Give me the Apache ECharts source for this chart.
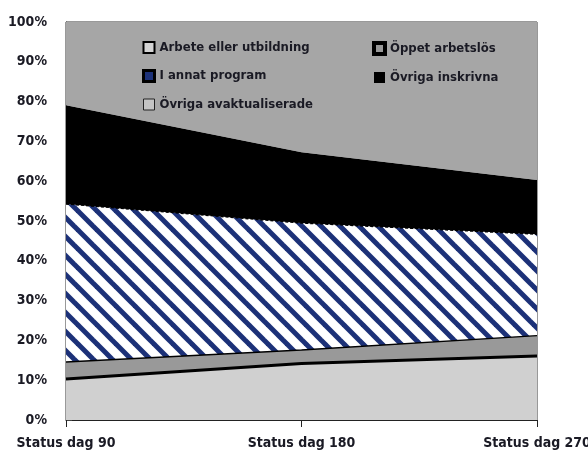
<!DOCTYPE html>
<html>
<head>
<meta charset="utf-8">
<script src="https://cdn.jsdelivr.net/npm/echarts@6/dist/echarts.min.js"></script>
<style>
  html, body { margin: 0; padding: 0; background: #fff; }
  #chart { width: 588px; height: 452px; }
</style>
</head>
<body>
<div id="chart"></div>
<script>
// kategorier och andelar (%)
const categories = ["Status dag 90", "Status dag 180", "Status dag 270"];
const arbete = [10.3, 14.2, 16.1];
const oppet = [4.3, 3.4, 5.1];
const annatProgram = [39.7, 31.9, 25.5];
const ovrigaInskrivna = [24.8, 17.8, 13.6];
const ovrigaAvakt = [20.9, 32.7, 39.7];
const yTicks = [0, 10, 20, 30, 40, 50, 60, 70, 80, 90, 100];

const font = "'DejaVu Sans Condensed', 'Liberation Sans Narrow', sans-serif";

// randigt mönster för "I annat program"
function makeStripes() {
  const s = 19;
  const c = document.createElement("canvas");
  c.width = s;
  c.height = s;
  const ctx = c.getContext("2d");
  ctx.fillStyle = "#ffffff";
  ctx.fillRect(0, 0, s, s);
  ctx.strokeStyle = "#1c3178";
  ctx.lineWidth = 5;
  for (let k = -1; k <= 1; k++) {
    ctx.beginPath();
    ctx.moveTo(-2, k * s - 2);
    ctx.lineTo(s + 2, s + k * s + 2);
    ctx.stroke();
  }
  return c;
}
const stripes = makeStripes();

const chart = echarts.init(document.getElementById("chart"));

const area = (name, data, fill, line) => ({
  name: name,
  type: "line",
  stack: "total",
  data: data,
  symbol: "none",
  areaStyle: { color: fill, opacity: 1 },
  lineStyle: line,
  itemStyle: { color: typeof fill === "string" ? fill : "#1c3178" },
  emphasis: { disabled: true },
  animation: false,
});

const legendText = { fontFamily: font, fontWeight: "bold", fontSize: 13, color: "#1a1a24" };

chart.setOption({
  animation: false,
  grid: {
    left: 66,
    right: 51,
    top: 22,
    bottom: 32,
    outerBoundsMode: "none",
    containLabel: false,
    show: true,
    borderColor: "#333",
    borderWidth: 1,
    backgroundColor: "#a6a6a6",
  },
  legend: [
    {
      orient: "vertical",
      left: 137,
      top: 36,
      itemGap: 15,
      itemWidth: 11,
      itemHeight: 11,
      textStyle: legendText,
      data: [
        { name: "Arbete eller utbildning", icon: "rect", itemStyle: { color: "#d4d4d4", borderColor: "#000", borderWidth: 2 } },
        { name: "I annat program", icon: "rect", itemStyle: { color: "#1c3178", borderColor: "#000", borderWidth: 3 } },
        { name: "Övriga avaktualiserade", icon: "rect", itemStyle: { color: "#c4c4c4", borderColor: "#222", borderWidth: 1 } },
      ],
    },
    {
      orient: "vertical",
      left: 367,
      top: 36,
      itemGap: 15,
      itemWidth: 11,
      itemHeight: 11,
      textStyle: legendText,
      data: [
        { name: "Öppet arbetslös", icon: "rect", itemStyle: { color: "#999", borderColor: "#000", borderWidth: 4 } },
        { name: "Övriga inskrivna", icon: "rect", itemStyle: { color: "#000", borderColor: "#000", borderWidth: 0 } },
      ],
    },
  ],
  xAxis: {
    type: "category",
    data: categories,
    boundaryGap: false,
    axisLine: { lineStyle: { color: "#222", width: 1 } },
    axisTick: { length: 7, lineStyle: { color: "#222" } },
    axisLabel: {
      fontFamily: font,
      fontWeight: "bold",
      fontSize: 14,
      color: "#1a1a24",
      margin: 16,
      interval: 0,
    },
    splitLine: { show: false },
  },
  yAxis: {
    type: "value",
    min: yTicks[0],
    max: yTicks[yTicks.length - 1],
    interval: 10,
    axisLine: { show: true, lineStyle: { color: "#444" } },
    axisTick: { show: true, inside: true, length: 6, lineStyle: { color: "#444" } },
    axisLabel: {
      formatter: (v) => v + "%",
      fontFamily: font,
      fontWeight: "bold",
      fontSize: 14,
      color: "#1a1a24",
      margin: 19,
    },
    splitLine: { show: false },
  },
  series: [
    area("Arbete eller utbildning", arbete, "#d0d0d0", { color: "#000", width: 3 }),
    area("Öppet arbetslös", oppet, "#999999", { color: "#000", width: 1.5 }),
    area("I annat program", annatProgram, { image: stripes, repeat: "repeat" }, { color: "#000", width: 1.5, type: [3, 2] }),
    area("Övriga inskrivna", ovrigaInskrivna, "#000000", { width: 0 }),
    area("Övriga avaktualiserade", ovrigaAvakt, "#a6a6a6", { width: 0 }),
  ],
});
</script>
</body>
</html>
